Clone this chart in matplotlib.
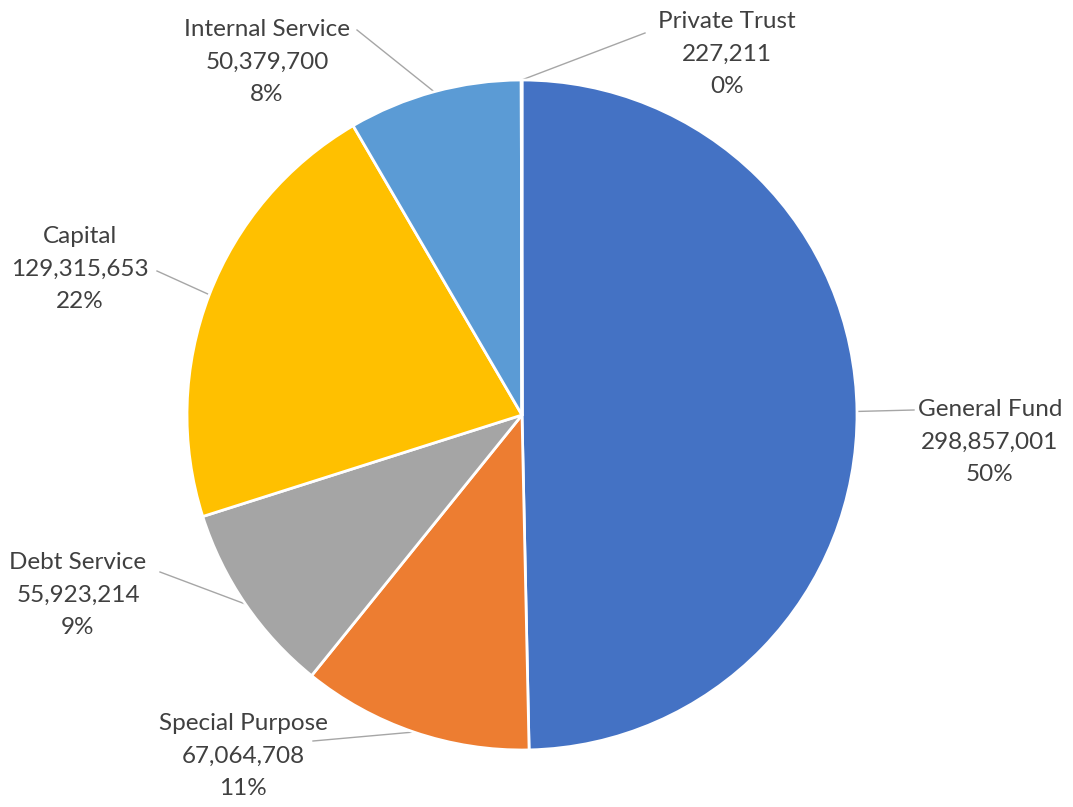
import numpy as np
import matplotlib.pyplot as plt

# fund data
funds = ["General Fund", "Special Purpose", "Debt Service", "Capital",
         "Internal Service", "Private Trust"]
amounts = [298857001, 67064708, 55923214, 129315653, 50379700, 227211]
pct_labels = ["50%", "11%", "9%", "22%", "8%", "0%"]
colors = ["#4472C4", "#ED7D31", "#A5A5A5", "#FFC000", "#5B9BD5", "#70AD47"]

# label centres (pixels, y down) and where the leader line leaves the text
label_pos = [(990, 442), (243, 756), (78, 595), (80, 269), (267, 62), (727, 54)]
line_start = [(914, 410), (313, 741), (160, 572), (157, 271), (357, 30), (645, 33)]

W, H = 1073, 807
cx, cy, r = 522, 415, 335

plt.rcParams['font.family'] = ['Lato', 'DejaVu Sans']
fig = plt.figure(figsize=(W / 100, H / 100), dpi=100)
ax = fig.add_axes([0, 0, 1, 1])

wedges, _ = ax.pie(amounts, colors=colors, startangle=90, counterclock=False,
                   center=(cx, H - cy), radius=r,
                   wedgeprops=dict(edgecolor='white', linewidth=2))
ax.set_xlim(0, W)
ax.set_ylim(0, H)
ax.set_aspect('auto')
ax.axis('off')

for w, name, amt, pct, (lx, ly), (sx, sy) in zip(wedges, funds, amounts, pct_labels,
                                                  label_pos, line_start):
    mid = np.deg2rad((w.theta1 + w.theta2) / 2)
    ex = cx + r * np.cos(mid)
    ey = (H - cy) + r * np.sin(mid)
    ax.plot([sx, ex], [H - sy, ey], color='#A6A6A6', linewidth=1, zorder=0)
    ax.text(lx, H - ly, f"{name}\n{amt:,}\n{pct}", ha='center', va='center',
            fontsize=17.5, color='#404040', linespacing=1.7)

fig.savefig("out.png", dpi=100)
